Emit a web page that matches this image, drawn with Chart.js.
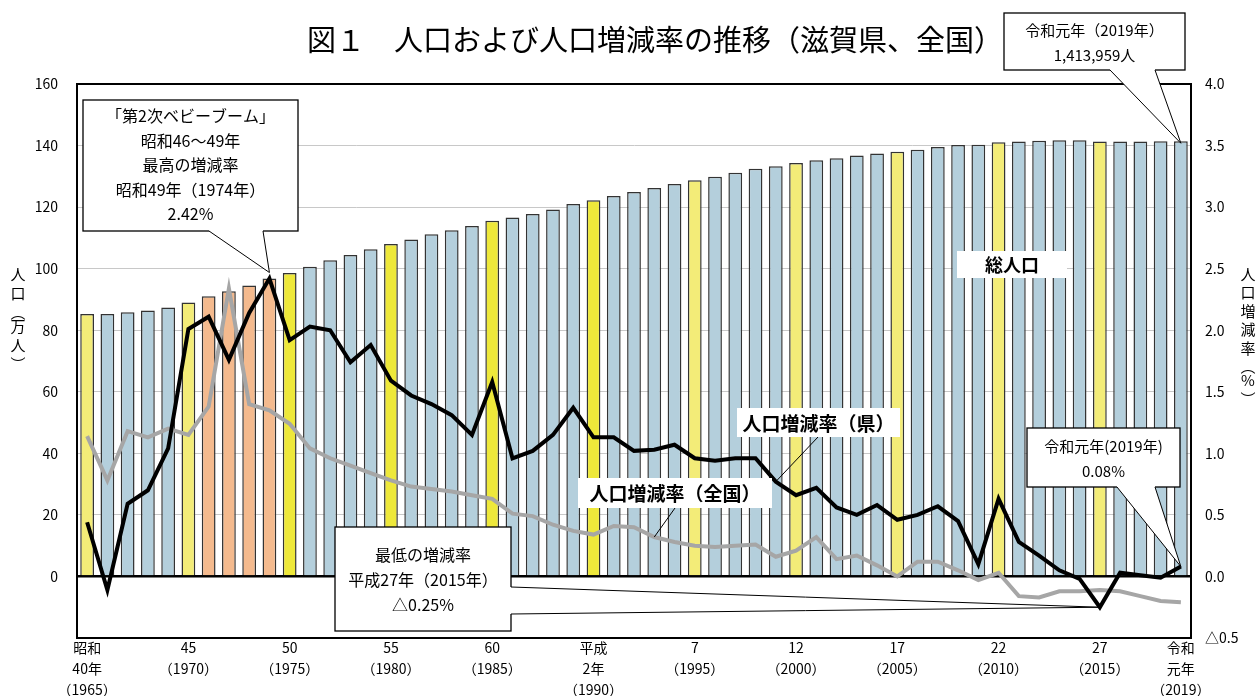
<!DOCTYPE html>
<html lang="ja">
<head>
<meta charset="utf-8">
<title>人口および人口増減率の推移（滋賀県、全国）</title>
<script src="https://cdn.jsdelivr.net/npm/chart.js@4.4.1/dist/chart.umd.min.js"></script>
<style>
  html, body { margin: 0; padding: 0; background: #fff; }
</style>
</head>
<body>
<canvas id="chart" width="1258" height="696"></canvas>
<script>
// 年（昭和40年〜令和元年）
const years = [
  '1965', '1966', '1967', '1968', '1969', '1970', '1971', '1972', '1973', '1974',
  '1975', '1976', '1977', '1978', '1979', '1980', '1981', '1982', '1983', '1984',
  '1985', '1986', '1987', '1988', '1989', '1990', '1991', '1992', '1993', '1994',
  '1995', '1996', '1997', '1998', '1999', '2000', '2001', '2002', '2003', '2004',
  '2005', '2006', '2007', '2008', '2009', '2010', '2011', '2012', '2013', '2014',
  '2015', '2016', '2017', '2018', '2019'
];

// 総人口（万人）
const population = [
  85.3, 85.3, 85.8, 86.4, 87.4, 89.0, 91.0, 92.7, 94.5, 96.8,
  98.6, 100.6, 102.7, 104.4, 106.3, 108.0, 109.5, 111.2, 112.5, 113.9,
  115.6, 116.6, 117.8, 119.2, 121.0, 122.2, 123.6, 124.9, 126.2, 127.5,
  128.7, 129.9, 131.2, 132.5, 133.3, 134.3, 135.2, 135.9, 136.8, 137.4,
  138.0, 138.6, 139.5, 140.2, 140.3, 141.1, 141.3, 141.6, 141.7, 141.7,
  141.3, 141.3, 141.3, 141.4, 141.4
];

// 人口増減率（県）%
const rateShiga = [
  0.44, -0.11, 0.59, 0.70, 1.04, 2.01, 2.11, 1.76, 2.14, 2.42,
  1.92, 2.03, 2.00, 1.74, 1.88, 1.59, 1.47, 1.40, 1.31, 1.15,
  1.58, 0.96, 1.02, 1.15, 1.37, 1.13, 1.13, 1.02, 1.03, 1.07,
  0.96, 0.94, 0.96, 0.96, 0.77, 0.66, 0.72, 0.56, 0.50, 0.58,
  0.46, 0.50, 0.57, 0.45, 0.10, 0.63, 0.28, 0.17, 0.05, -0.02,
  -0.25, 0.03, 0.01, -0.01, 0.08
];

// 人口増減率（全国）%
const rateJapan = [
  1.14, 0.78, 1.18, 1.13, 1.20, 1.15, 1.38, 2.34, 1.40, 1.35,
  1.24, 1.04, 0.96, 0.90, 0.84, 0.78, 0.73, 0.71, 0.69, 0.66,
  0.63, 0.51, 0.49, 0.42, 0.37, 0.34, 0.41, 0.40, 0.32, 0.28,
  0.25, 0.24, 0.25, 0.26, 0.16, 0.21, 0.32, 0.14, 0.17, 0.09,
  0.00, 0.12, 0.12, 0.05, -0.03, 0.03, -0.16, -0.17, -0.12, -0.12,
  -0.11, -0.12, -0.16, -0.20, -0.21
];

// 目盛ラベル
const tickYears = ['1965', '1970', '1975', '1980', '1985', '1990', '1995', '2000', '2005', '2010', '2015', '2019'];
const tickTexts = [
  ['昭和', '40年', '（1965）'], ['45', '（1970）'], ['50', '（1975）'], ['55', '（1980）'],
  ['60', '（1985）'], ['平成', '2年', '（1990）'], ['7', '（1995）'], ['12', '（2000）'],
  ['17', '（2005）'], ['22', '（2010）'], ['27', '（2015）'], ['令和', '元年', '（2019）']
];

// 棒の色分け
const censusBright = ['1975', '1980', '1985', '1990'];
const censusPale = ['1965', '1970', '1995', '2000', '2005', '2010', '2015'];
const babyBoom = ['1971', '1972', '1973', '1974'];

const FONT = '"Noto Sans CJK JP", "Noto Sans", sans-serif';

const barColors = years.map(y => {
  if (censusBright.includes(y)) return '#EEE83A';
  if (censusPale.includes(y)) return '#F3EC78';
  if (babyBoom.includes(y)) return '#F4BA8E';
  return '#B4CFDC';
});

function callout(ctx, c) {
  ctx.save();
  ctx.fillStyle = '#fff';
  ctx.strokeStyle = '#000';
  ctx.lineWidth = 1.3;
  ctx.fillRect(c.x, c.y, c.w, c.h);
  ctx.strokeRect(c.x, c.y, c.w, c.h);
  if (c.tip) {
    const [b0, b1] = c.base;
    const d = c.inward;
    ctx.beginPath();
    ctx.moveTo(b0[0] + d[0], b0[1] + d[1]);
    ctx.lineTo(b0[0], b0[1]);
    ctx.lineTo(c.tip[0], c.tip[1]);
    ctx.lineTo(b1[0], b1[1]);
    ctx.lineTo(b1[0] + d[0], b1[1] + d[1]);
    ctx.closePath();
    ctx.fill();
    ctx.beginPath();
    ctx.moveTo(b0[0], b0[1]);
    ctx.lineTo(c.tip[0], c.tip[1]);
    ctx.lineTo(b1[0], b1[1]);
    ctx.lineWidth = 1;
    ctx.stroke();
  }
  ctx.fillStyle = '#000';
  ctx.font = c.font;
  ctx.textAlign = 'center';
  ctx.textBaseline = 'middle';
  c.lines.forEach((t, i) => ctx.fillText(t, c.x + c.w / 2, c.ty + i * c.lh));
  ctx.restore();
}

function tag(ctx, t) {
  ctx.save();
  ctx.fillStyle = '#fff';
  ctx.fillRect(t.x, t.y, t.w, t.h);
  if (t.tip) {
    ctx.beginPath();
    ctx.moveTo(t.from[0], t.from[1]);
    ctx.lineTo(t.tip[0], t.tip[1]);
    ctx.strokeStyle = '#000';
    ctx.lineWidth = 1;
    ctx.stroke();
  }
  ctx.fillStyle = '#000';
  ctx.font = t.font;
  ctx.textAlign = 'center';
  ctx.textBaseline = 'middle';
  ctx.fillText(t.text, t.x + t.w / 2, t.y + t.h / 2 + 1);
  ctx.restore();
}

function verticalText(ctx, chars, x, y0, step) {
  ctx.save();
  ctx.fillStyle = '#000';
  ctx.font = '15px ' + FONT;
  ctx.textAlign = 'center';
  ctx.textBaseline = 'middle';
  let y = y0;
  chars.forEach(ch => {
    const s = (ch === '︵' || ch === '︶') ? step * 0.75 : step;
    ctx.fillText(ch, x, y);
    y += s;
  });
  ctx.restore();
}

const decorations = {
  id: 'decorations',
  afterDraw(chart) {
    const ctx = chart.ctx;
    const sx = chart.scales.x, sy = chart.scales.y, sr = chart.scales.y2;
    const px = i => sx.getPixelForValue(i);

    // タイトル
    ctx.save();
    ctx.fillStyle = '#000';
    ctx.font = '29px ' + FONT;
    ctx.textAlign = 'center';
    ctx.textBaseline = 'middle';
    ctx.fillText('図１　人口および人口増減率の推移（滋賀県、全国）', 655, 40);
    ctx.restore();

    verticalText(ctx, ['人', '口', '︵', '万', '人', '︶'], 18, 274, 19);
    verticalText(ctx, ['人', '口', '増', '減', '率', '︵', '%', '︶'], 1248, 274, 18.5);

    const i74 = years.indexOf('1974');
    const i15 = years.indexOf('2015');
    const i19 = years.indexOf('2019');

    callout(ctx, {
      x: 83, y: 100, w: 215, h: 131,
      base: [[209, 231], [263, 231]], inward: [0, -2],
      tip: [px(i74), sr.getPixelForValue(rateShiga[i74]) - 6],
      font: '16px ' + FONT, ty: 116, lh: 24.5,
      lines: ['「第2次ベビーブーム」', '昭和46～49年', '最高の増減率', '昭和49年（1974年）', '2.42%']
    });
    callout(ctx, {
      x: 1004, y: 13, w: 181, h: 57,
      base: [[1110, 70], [1155, 70]], inward: [0, -2],
      tip: [px(i19), sy.getPixelForValue(population[i19]) + 2],
      font: '15px ' + FONT, ty: 30, lh: 25,
      lines: ['令和元年（2019年）', '1,413,959人']
    });
    callout(ctx, {
      x: 335, y: 527, w: 176, h: 104,
      base: [[511, 587], [511, 614]], inward: [-2, 0],
      tip: [px(i15), sr.getPixelForValue(rateShiga[i15])],
      font: '16px ' + FONT, ty: 555, lh: 25,
      lines: ['最低の増減率', '平成27年（2015年）', '△0.25%']
    });
    callout(ctx, {
      x: 1027, y: 428, w: 153, h: 59,
      base: [[1117, 487], [1155, 487]], inward: [0, -2],
      tip: [px(i19), sr.getPixelForValue(rateShiga[i19])],
      font: '15px ' + FONT, ty: 446, lh: 25,
      lines: ['令和元年(2019年)', '0.08%']
    });

    tag(ctx, { x: 957, y: 251, w: 110, h: 27, font: 'bold 18px ' + FONT, text: '総人口' });
    const i99 = years.indexOf('1999');
    tag(ctx, {
      x: 737, y: 408, w: 163, h: 29, font: 'bold 19px ' + FONT, text: '人口増減率（県）',
      from: [818, 437], tip: [px(i99), sr.getPixelForValue(rateShiga[i99])]
    });
    const i93 = years.indexOf('1993');
    tag(ctx, {
      x: 578, y: 478, w: 194, h: 30, font: 'bold 19px ' + FONT, text: '人口増減率（全国）',
      from: [675, 508], tip: [px(i93), sr.getPixelForValue(rateJapan[i93])]
    });
  }
};

new Chart(document.getElementById('chart'), {
  data: {
    labels: years,
    datasets: [
      {
        type: 'line',
        label: '人口増減率（県）',
        data: rateShiga,
        yAxisID: 'y2',
        borderColor: '#000',
        borderWidth: 4,
        pointRadius: 0,
        tension: 0,
        order: 0
      },
      {
        type: 'line',
        label: '人口増減率（全国）',
        data: rateJapan,
        yAxisID: 'y2',
        borderColor: '#A6A6A6',
        borderWidth: 4,
        pointRadius: 0,
        tension: 0,
        order: 1
      },
      {
        type: 'bar',
        label: '総人口',
        data: population,
        yAxisID: 'y',
        backgroundColor: barColors,
        borderColor: '#333',
        borderWidth: 1.5,
        barPercentage: 0.68,
        categoryPercentage: 1,
        order: 2
      }
    ]
  },
  options: {
    responsive: false,
    animation: false,
    layout: { padding: { top: 84, left: 0, right: 0, bottom: 0 } },
    plugins: {
      legend: { display: false },
      tooltip: { enabled: false },
      title: { display: false }
    },
    scales: {
      x: {
        grid: { display: false },
        border: { color: '#000', width: 2 },
        ticks: {
          autoSkip: false,
          maxRotation: 0,
          minRotation: 0,
          padding: -9,
          color: '#000',
          font: { family: FONT, size: 14, lineHeight: '21px' },
          callback: function (value, index) {
            const k = tickYears.indexOf(years[index]);
            return k >= 0 ? tickTexts[k] : '';
          }
        },
        afterFit: s => { s.height = 58; }
      },
      y: {
        position: 'left',
        min: -20,
        max: 160,
        grid: {
          drawTicks: false,
          color: c => (c.tick.value === 0 || c.tick.value === 160 || c.tick.value === -20) ? '#000' : '#C8C8C8',
          lineWidth: c => c.tick.value === 0 ? 2.5 : (c.tick.value === 160 ? 2 : 1)
        },
        border: { color: '#000', width: 2 },
        ticks: {
          stepSize: 20,
          padding: 19,
          color: '#000',
          font: { family: FONT, size: 14 },
          callback: v => v < 0 ? '' : v
        },
        afterFit: s => { s.width = 77; }
      },
      y2: {
        position: 'right',
        min: -0.5,
        max: 4.0,
        grid: { drawOnChartArea: false, drawTicks: false },
        border: { color: '#000', width: 2 },
        ticks: {
          stepSize: 0.5,
          padding: 14,
          color: '#000',
          font: { family: FONT, size: 14 },
          callback: v => v < 0 ? '△' + Math.abs(v).toFixed(1) : v.toFixed(1)
        },
        afterFit: s => { s.width = 67; }
      }
    }
  },
  plugins: [decorations]
});
</script>
</body>
</html>
